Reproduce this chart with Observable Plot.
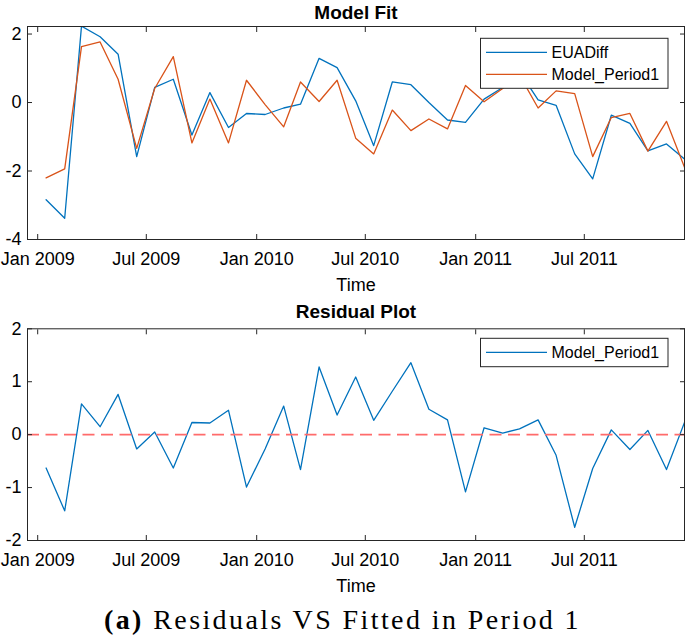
<!DOCTYPE html>
<html><head><meta charset="utf-8">
<script src="https://cdn.jsdelivr.net/npm/d3@7"></script>
<script src="https://cdn.jsdelivr.net/npm/@observablehq/plot@0.6"></script>
<style>
body{margin:0;background:#fff;}
#wrap{width:685px;}
svg{display:block}
.cap{font-family:"Liberation Serif","Times New Roman",serif;font-size:28px;letter-spacing:2.4px;text-align:center;height:38px;line-height:40px;color:#000;}
</style></head><body><div id="wrap"></div>
<script>
// ---- data ----
const months = [
  "2009-01-15","2009-02-15","2009-03-15","2009-04-15","2009-05-15","2009-06-15",
  "2009-07-15","2009-08-15","2009-09-15","2009-10-15","2009-11-15","2009-12-15",
  "2010-01-15","2010-02-15","2010-03-15","2010-04-15","2010-05-15","2010-06-15",
  "2010-07-15","2010-08-15","2010-09-15","2010-10-15","2010-11-15","2010-12-15",
  "2011-01-15","2011-02-15","2011-03-15","2011-04-15","2011-05-15","2011-06-15",
  "2011-07-15","2011-08-15","2011-09-15","2011-10-15","2011-11-15","2011-12-15"
];
const euaDiff = [
  -2.84,-3.38,2.23,1.92,1.41,-1.58,
  0.44,0.68,-0.95,0.29,-0.73,-0.32,
  -0.35,-0.16,-0.05,1.29,1.02,0.05,
  -1.26,0.60,0.52,0.00,-0.51,-0.58,
  0.10,0.44,0.90,0.08,-0.08,-1.50,
  -2.23,-0.37,-0.61,-1.41,-1.21,-1.65
];
const modelPeriod1 = [
  -2.20,-1.94,1.63,1.77,0.68,-1.34,
  0.41,1.34,-1.18,0.10,-1.18,0.65,
  -0.06,-0.71,0.60,0.03,0.65,-1.04,
  -1.50,-0.22,-0.82,-0.48,-0.77,0.50,
  0.02,0.41,0.80,-0.16,0.34,0.26,
  -1.58,-0.44,-0.32,-1.42,-0.55,-1.89
];
const residuals = [
  -0.63,-1.44,0.58,0.15,0.76,-0.27,
  0.05,-0.63,0.23,0.22,0.46,-0.99,
  -0.27,0.54,-0.66,1.28,0.37,1.09,
  0.27,0.82,1.36,0.48,0.28,-1.08,
  0.13,0.03,0.11,0.28,-0.39,-1.75,
  -0.64,0.09,-0.28,0.08,-0.66,0.23
];
const xTicks = ["2009-01-01","2009-07-01","2010-01-01","2010-07-01","2011-01-01","2011-07-01"];
const xTickLabels = ["Jan 2009","Jul 2009","Jan 2010","Jul 2010","Jan 2011","Jul 2011"];
const xDomain = ["2008-12-15","2011-12-15"];
const yTicksFit = [-4,-2,0,2];
const yTicksRes = [-2,-1,0,1,2];
const seriesNames = ["EUADiff","Model_Period1"];
const colors = ["#0072BD","#D95319"];
const zeroColor = "#ff6b6b";

// ---- build ----
const font = '"Liberation Sans", Arial, Helvetica, sans-serif';
const dates = months.map(m => new Date(m + "T00:00:00Z"));
const xTickDates = xTicks.map(t => new Date(t + "T00:00:00Z"));
const fmtX = d => xTickLabels[xTickDates.findIndex(t => +t === +d)];
const fitData = [
  ...dates.map((d,i) => ({date:d, series:seriesNames[0], value:euaDiff[i]})),
  ...dates.map((d,i) => ({date:d, series:seriesNames[1], value:modelPeriod1[i]}))
];
const resData = dates.map((d,i) => ({date:d, value:residuals[i]}));
const ink = "#262626";

function axes(yTicks) {
  return [
    Plot.axisX(xTickDates, {anchor:"bottom", tickSize:-5, tickPadding:18, tickFormat:fmtX, label:null, fontSize:18, fill:"#000"}),
    Plot.axisX(xTickDates, {anchor:"top", tickSize:-5, tickFormat:() => "", label:null}),
    Plot.axisY(yTicks, {anchor:"left", tickSize:-5, tickPadding:11, tickFormat:d => String(d), label:null, fontSize:18, fill:"#000"}),
    Plot.axisY(yTicks, {anchor:"right", tickSize:-5, tickFormat:() => "", label:null}),
    Plot.frame({stroke:ink, strokeWidth:1})
  ];
}
const common = {
  width:685, height:300, marginLeft:27, marginRight:1,
  style:{fontFamily:font, fontSize:"18px", color:ink, background:"white", overflow:"visible"},
  x:{type:"utc", domain:xDomain.map(t => new Date(t + "T00:00:00Z"))}
};

const p1 = Plot.plot({
  ...common, marginTop:26, marginBottom:61,
  y:{domain:[-4, 2.22]},
  marks:[
    Plot.line(fitData.filter(d => d.series === seriesNames[0]), {x:"date", y:"value", stroke:colors[0], strokeWidth:1.3, clip:true}),
    Plot.line(fitData.filter(d => d.series === seriesNames[1]), {x:"date", y:"value", stroke:colors[1], strokeWidth:1.3, clip:true}),
    ...axes(yTicksFit),
    Plot.text(["Model Fit"], {frameAnchor:"top", dy:-13.5, fontWeight:"bold", fontSize:19, lineAnchor:"middle", fill:"#000"}),
    Plot.text(["Time"], {frameAnchor:"bottom", dy:46, fontSize:18, lineAnchor:"middle", fill:"#000"})
  ]
});

const p2 = Plot.plot({
  ...common, marginTop:28.3, marginBottom:60,
  y:{domain:[-2, 2]},
  marks:[
    Plot.line(resData, {x:"date", y:"value", stroke:colors[0], strokeWidth:1.3, clip:true}),
    Plot.ruleY([0], {stroke:zeroColor, strokeWidth:1.8, strokeDasharray:"12,6.5"}),
    ...axes(yTicksRes),
    Plot.text(["Residual Plot"], {frameAnchor:"top", dy:-16.5, fontWeight:"bold", fontSize:19, lineAnchor:"middle", fill:"#000"}),
    Plot.text(["Time"], {frameAnchor:"bottom", dy:46, fontSize:18, lineAnchor:"middle", fill:"#000"})
  ]
});

function legend(svg, entries, top) {
  const g = d3.select(svg).append("g");
  const h = entries.length === 2 ? 50 : 28.4;
  g.append("rect").attr("x",480.5).attr("y",top).attr("width",187.5).attr("height",h)
    .attr("fill","white").attr("stroke",ink).attr("stroke-width",1);
  entries.forEach((e,i) => {
    const cy = top + 14 + i*22;
    g.append("line").attr("x1",486).attr("x2",547).attr("y1",cy).attr("y2",cy)
      .attr("stroke",e.color).attr("stroke-width",1.3);
    g.append("text").attr("x",551.5).attr("y",cy).attr("dy","0.36em")
      .attr("text-anchor","start")
      .attr("font-size",16).attr("font-family",font).attr("fill","#000").text(e.name);
  });
}
legend(p1, seriesNames.map((n,i) => ({name:n, color:colors[i]})), 38.3);
legend(p2, [{name:seriesNames[1], color:colors[0]}], 38.3);

const wrap = document.getElementById("wrap");
wrap.appendChild(p1);
wrap.appendChild(p2);
const cap = document.createElement("div");
cap.className = "cap";
cap.innerHTML = "<b>(a)</b> Residuals VS Fitted in Period 1";
wrap.appendChild(cap);
</script></body></html>
